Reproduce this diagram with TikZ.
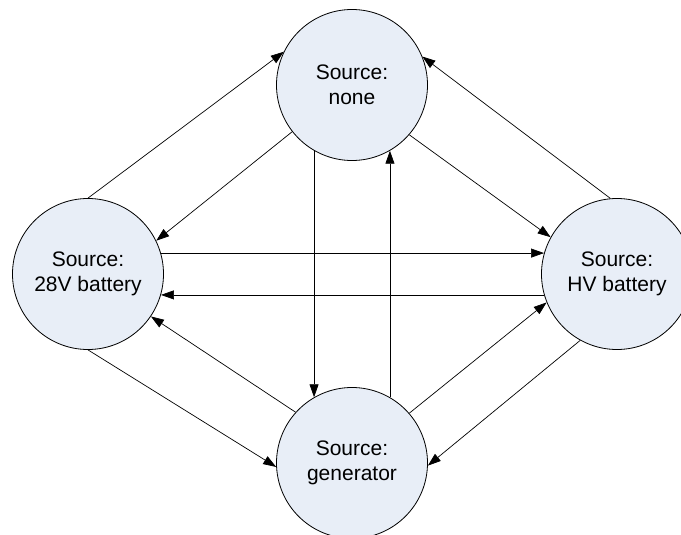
\documentclass[tikz,border=0pt]{standalone}
\usepackage{fontspec}
\setmainfont{Liberation Sans}
\usetikzlibrary{arrows.meta}
\definecolor{circfill}{RGB}{232,238,247}
\tikzset{
  state/.style={circle, draw=black, line width=0.8pt, fill=circfill, minimum size=151pt, inner sep=0pt, align=center, font=\fontsize{21}{25}\selectfont},
  arr/.style={line width=0.7pt, -{Triangle[length=13pt,width=9pt]}}
}
\begin{document}
\begin{tikzpicture}[x=1pt,y=-1pt]
\useasboundingbox (0,0) rectangle (681,535);
\node[state] (T) at (352,85) {Source:\\none};
\node[state] (L) at (88,274) {Source:\\28V battery};
\node[state] (R) at (617,274) {Source:\\HV battery};
\node[state] (B) at (352,463) {Source:\\generator};
\draw[arr] (L.90) -- (T.154);
\draw[arr] (T.-142) -- (L.26);
\draw[arr] (T.-120) -- (B.120);
\draw[arr] (B.60) -- (T.-60);
\draw[arr] (T.-41) -- (R.151);
\draw[arr] (R.95) -- (T.22);
\draw[arr] (L.16) -- (R.164);
\draw[arr] (R.196) -- (L.-16);
\draw[arr] (L.-90) -- (B.183);
\draw[arr] (B.138) -- (L.-34);
\draw[arr] (B.41) -- (R.202);
\draw[arr] (R.241) -- (B.-2);
\end{tikzpicture}
\end{document}
